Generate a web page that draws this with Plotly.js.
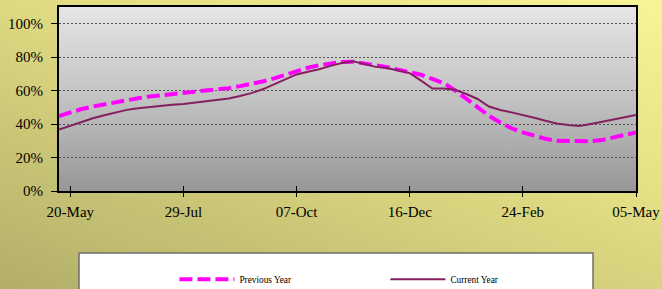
<!DOCTYPE html>
<html>
<head>
<meta charset="utf-8">
<script src="https://cdn.plot.ly/plotly-3.0.1.min.js"></script>
<style>
  html, body { margin: 0; padding: 0; }
  #chart {
    width: 662px; height: 289px;
    background:
      linear-gradient(to bottom, #E5E5E5 0%, #C2C2C2 50%, #979797 100%) 59px 7px / 577px 184px no-repeat,
      linear-gradient(200deg, #F7F597 0%, #E2DE84 40%, #B2AE69 100%);
  }
</style>
</head>
<body>
<div id="chart"></div>
<script>
// Weekly dates (x categories)
const weeks = [
  '2006-05-13','2006-05-20','2006-05-27',
  '2006-06-03','2006-06-10','2006-06-17','2006-06-24',
  '2006-07-01','2006-07-08','2006-07-15','2006-07-22','2006-07-29',
  '2006-08-05','2006-08-12','2006-08-19','2006-08-26',
  '2006-09-02','2006-09-09','2006-09-16','2006-09-23','2006-09-30',
  '2006-10-07','2006-10-14','2006-10-21','2006-10-28',
  '2006-11-04','2006-11-11','2006-11-18','2006-11-25',
  '2006-12-02','2006-12-09','2006-12-16','2006-12-23','2006-12-30',
  '2007-01-06','2007-01-13','2007-01-20','2007-01-27',
  '2007-02-03','2007-02-10','2007-02-17','2007-02-24',
  '2007-03-03','2007-03-10','2007-03-17','2007-03-24','2007-03-31',
  '2007-04-07','2007-04-14','2007-04-21','2007-04-28',
  '2007-05-05'
];

// Previous Year (dashed magenta)
const previousYear = [
  0.448, 0.470, 0.490, 0.505, 0.518, 0.533, 0.545, 0.555, 0.565, 0.572,
  0.580, 0.585, 0.592, 0.598, 0.605, 0.615, 0.627, 0.640, 0.655, 0.673,
  0.695, 0.716, 0.737, 0.752, 0.763, 0.771, 0.773, 0.765, 0.752, 0.740,
  0.725, 0.712, 0.695, 0.670, 0.645, 0.602, 0.550, 0.503, 0.450, 0.410,
  0.375, 0.350, 0.328, 0.312, 0.300, 0.297, 0.295, 0.297, 0.305, 0.318,
  0.332, 0.350
];

// Current Year (solid purple)
const currentYear = [
  0.367, 0.390, 0.413, 0.435, 0.453, 0.470, 0.485, 0.495, 0.503, 0.510,
  0.515, 0.520, 0.528, 0.535, 0.545, 0.553, 0.568, 0.585, 0.608, 0.638,
  0.668, 0.697, 0.713, 0.728, 0.748, 0.765, 0.776, 0.758, 0.742, 0.735,
  0.722, 0.705, 0.660, 0.613, 0.613, 0.605, 0.580, 0.550, 0.505, 0.484,
  0.470, 0.455, 0.438, 0.420, 0.404, 0.394, 0.388, 0.400, 0.414, 0.428,
  0.442, 0.454
];

const tickDates = ['2006-05-20','2006-07-29','2006-10-07','2006-12-16','2007-02-24','2007-05-05'];
const yTicks = [0, 0.2, 0.4, 0.6, 0.8, 1.0];
const seriesNames = ['Previous Year', 'Current Year'];

const FONT = 'Liberation Serif, Times New Roman, serif';
const xRange = [weeks[0], weeks[weeks.length - 1]];

const traces = [
  {
    x: weeks, y: previousYear, name: seriesNames[0], type: 'scatter', mode: 'lines',
    line: { color: '#FF00FF', width: 4, dash: '13px,5px' }
  },
  {
    x: weeks, y: currentYear, name: seriesNames[1], type: 'scatter', mode: 'lines',
    line: { color: '#84205F', width: 2 }
  },
  { x: [], y: [], xaxis: 'x2', yaxis: 'y', showlegend: false, hoverinfo: 'skip' }
];

const layout = {
  width: 662, height: 289,
  margin: { l: 59, r: 26, t: 7, b: 98 },
  paper_bgcolor: 'rgba(0,0,0,0)',
  plot_bgcolor: 'rgba(0,0,0,0)',
  font: { family: FONT, color: '#000' },
  xaxis: {
    type: 'date', range: xRange,
    tickvals: tickDates, tickformat: '%d-%b',
    ticks: 'outside', ticklen: 4, tickwidth: 1, tickcolor: '#000',
    ticklabelstandoff: 2,
    showgrid: false, zeroline: false,
    showline: true, linecolor: '#000', linewidth: 2, mirror: true,
    tickfont: { family: FONT, size: 15, color: '#000' }
  },
  xaxis2: {
    type: 'date', range: xRange, overlaying: 'x', anchor: 'y',
    tickvals: tickDates, showticklabels: false,
    ticks: 'inside', ticklen: 5, tickwidth: 1, tickcolor: '#000',
    showgrid: false, zeroline: false, showline: false
  },
  yaxis: {
    range: [0, 1.1], tickvals: yTicks, tickformat: '.0%',
    ticks: 'outside', ticklen: 6, tickwidth: 1, tickcolor: '#000',
    showgrid: true, gridcolor: '#555', gridwidth: 1, griddash: '2px,2px',
    zeroline: false,
    showline: true, linecolor: '#000', linewidth: 2, mirror: true,
    ticklabelstandoff: 5,
    tickfont: { family: FONT, size: 15, color: '#000' }
  },
  shapes: [
    {
      type: 'rect', xref: 'paper', yref: 'paper',
      x0: (79 - 59) / 577, x1: (593 - 59) / 577,
      y0: (191 - 253) / 184, y1: (191 - 300) / 184,
      fillcolor: '#FFFFFF', line: { color: '#6E6E6E', width: 1.5 }, layer: 'below'
    }
  ],
  showlegend: true,
  legend: {
    orientation: 'h', xref: 'paper', x: 0.200, xanchor: 'left',
    yref: 'container', y: (289 - 279.3) / 289, yanchor: 'middle',
    bgcolor: 'rgba(0,0,0,0)', borderwidth: 0,
    entrywidth: 141, entrywidthmode: 'pixels', itemwidth: 55,
    font: { family: FONT, size: 9.3, color: '#000' }
  }
};

Plotly.newPlot('chart', traces, layout, { displayModeBar: false, staticPlot: true });
</script>
</body>
</html>
